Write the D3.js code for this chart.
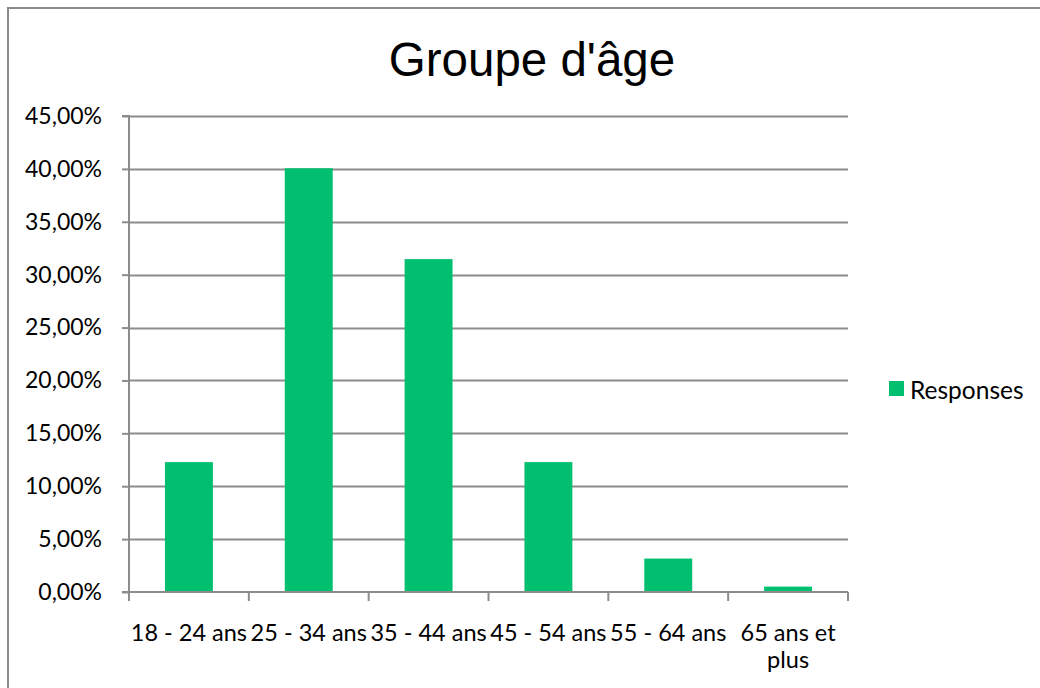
<!DOCTYPE html>
<html>
<head>
<meta charset="utf-8">
<script src="https://cdn.jsdelivr.net/npm/d3@7"></script>
<style>
  html, body { margin: 0; padding: 0; background: #fff; }
  svg { display: block; }
</style>
</head>
<body>
<svg id="chart" width="1040" height="688"></svg>
<script>
const title = "Groupe d'âge";
const categories = [["18 - 24 ans"], ["25 - 34 ans"], ["35 - 44 ans"], ["45 - 54 ans"], ["55 - 64 ans"], ["65 ans et", "plus"]];
const values = [12.28, 40.06, 31.47, 12.28, 3.16, 0.51];
const yTicks = [0, 5, 10, 15, 20, 25, 30, 35, 40, 45];
const seriesName = "Responses";

const W = 1040, H = 688;
const margin = { left: 129, right: 1040 - 848, top: 116, bottom: 688 - 592 };
const svg = d3.select("#chart");
const font = "Lato, 'Open Sans', sans-serif";
const green = "#00BF6F";
const grid = "#8c8c8c";

// outer border
svg.append("rect").attr("x", 8).attr("y", 8).attr("width", W + 10).attr("height", H + 10)
  .attr("fill", "none").attr("stroke", "#8a8a8a").attr("stroke-width", 2);

const keys = categories.map(c => c.join(" "));
const x = d3.scaleBand().domain(keys).range([margin.left, W - margin.right]).paddingInner(0.6).paddingOuter(0.3);
const y = d3.scaleLinear().domain([0, 45]).range([H - margin.bottom, margin.top]);

// title
svg.append("text").attr("x", 532).attr("y", 76).attr("text-anchor", "middle")
  .attr("font-family", "'Liberation Sans', Arial, sans-serif").attr("font-size", 47.5).attr("fill", "#000")
  .text(title);

// gridlines
svg.append("g").selectAll("line").data(yTicks.filter(t => t > 0)).join("line")
  .attr("x1", margin.left).attr("x2", W - margin.right)
  .attr("y1", d => Math.round(y(d)) + 0.5).attr("y2", d => Math.round(y(d)) + 0.5)
  .attr("stroke", grid).attr("stroke-width", 2);

// bars
svg.append("g").selectAll("rect").data(values).join("rect")
  .attr("x", (d, i) => x(keys[i])).attr("width", x.bandwidth())
  .attr("y", d => y(d)).attr("height", d => y(0) - y(d))
  .attr("fill", green);

// y axis
const yAxis = d3.axisLeft(y).tickValues(yTicks).tickSize(7).tickPadding(20)
  .tickFormat(d => d3.format(".2f")(d).replace(".", ",") + "%");
const gy = svg.append("g").attr("transform", `translate(${margin.left},0)`).call(yAxis);
gy.select(".domain").attr("stroke", grid).attr("stroke-width", 2).attr("d", `M-7,${y(45)}H0V${y(0)}H-7`);
gy.selectAll(".tick line").attr("stroke", grid).attr("stroke-width", 2);
gy.selectAll(".tick text").attr("font-family", font).attr("font-size", 23).attr("fill", "#000");

// x axis baseline and ticks at band boundaries
const step = x.step();
const bounds = d3.range(keys.length + 1).map(i => margin.left + i * step);
svg.append("line").attr("x1", margin.left).attr("x2", W - margin.right)
  .attr("y1", y(0)).attr("y2", y(0)).attr("stroke", grid).attr("stroke-width", 2);
svg.append("g").selectAll("line").data(bounds).join("line")
  .attr("x1", d => d).attr("x2", d => d).attr("y1", y(0)).attr("y2", y(0) + 9)
  .attr("stroke", grid).attr("stroke-width", 2);

// x labels
const xl = svg.append("g").selectAll("text").data(categories).join("text")
  .attr("font-family", font).attr("font-size", 23.5).attr("fill", "#000").attr("text-anchor", "middle")
  .attr("x", (d, i) => x(keys[i]) + x.bandwidth() / 2).attr("y", 641);
xl.selectAll("tspan").data(d => d).join("tspan")
  .attr("x", function () { return this.parentNode.getAttribute("x"); })
  .attr("dy", (d, i) => i === 0 ? 0 : 27).text(d => d);

// legend
svg.append("rect").attr("x", 889).attr("y", 381).attr("width", 15).attr("height", 15).attr("fill", green);
svg.append("text").attr("x", 910).attr("y", 389).attr("dominant-baseline", "central")
  .attr("font-family", font).attr("font-size", 24.5).attr("fill", "#000").text(seriesName);
</script>
</body>
</html>
